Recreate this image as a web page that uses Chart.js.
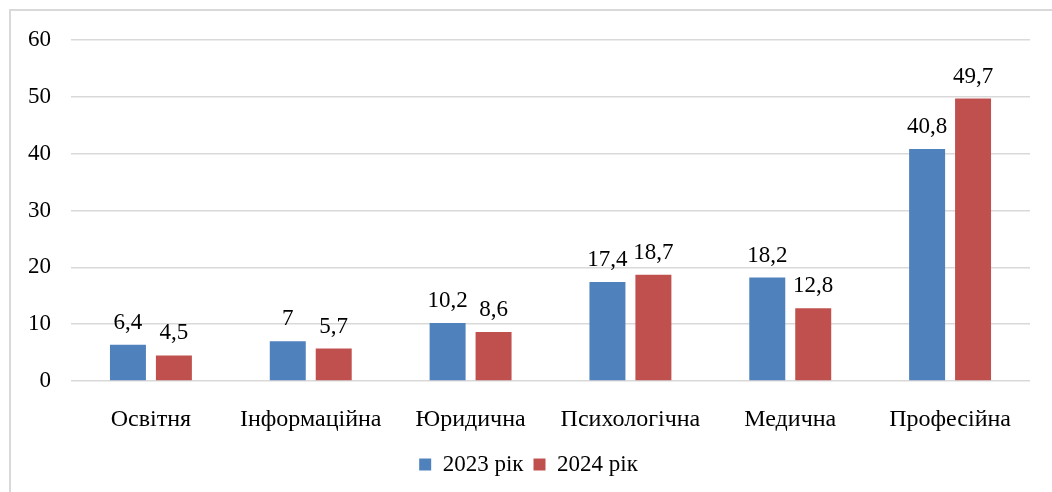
<!DOCTYPE html>
<html>
<head>
<meta charset="utf-8">
<script src="https://cdn.jsdelivr.net/npm/chart.js@4"></script>
<style>
  html, body { margin: 0; padding: 0; background: #fff; }
  #wrap { position: relative; width: 1052px; height: 492px; overflow: hidden; }
  #frame { position: absolute; left: 9px; top: 9px; width: 1100px; height: 600px;
           border-left: 2px solid #d9d9d9; border-top: 2px solid #d9d9d9; pointer-events: none; }
  canvas { position: absolute; left: 0; top: 0; }
</style>
</head>
<body>
<div id="wrap">
  <canvas id="c" width="1052" height="492"></canvas>
  <div id="frame"></div>
</div>
<script>
const categories = ["Освітня", "Інформаційна", "Юридична", "Психологічна", "Медична", "Професійна"];
const series2023 = [6.4, 7, 10.2, 17.4, 18.2, 40.8];
const series2024 = [4.5, 5.7, 8.6, 18.7, 12.8, 49.7];
const seriesNames = ["2023 рік", "2024 рік"];
const yTicks = [0, 10, 20, 30, 40, 50, 60];

const FONT = '"Liberation Serif", "Times New Roman", Times, serif';
Chart.defaults.font.family = FONT;

const valueLabels = {
  id: 'valueLabels',
  afterDatasetsDraw(chart) {
    const ctx = chart.ctx;
    ctx.save();
    ctx.font = '23px ' + FONT;
    ctx.fillStyle = "#000";
    ctx.textAlign = "center";
    ctx.textBaseline = "alphabetic";
    chart.data.datasets.forEach((ds, i) => {
      const meta = chart.getDatasetMeta(i);
      meta.data.forEach((bar, j) => {
        const txt = String(ds.data[j]).replace('.', ',');
        ctx.fillText(txt, bar.x, bar.y - 16);
      });
    });
    ctx.restore();
  }
};

new Chart(document.getElementById('c'), {
  type: 'bar',
  data: {
    labels: categories,
    datasets: [
      { label: seriesNames[0], data: series2023, backgroundColor: '#4F81BD',
        categoryPercentage: 0.575, barPercentage: 0.783 },
      { label: seriesNames[1], data: series2024, backgroundColor: '#C0504D',
        categoryPercentage: 0.575, barPercentage: 0.783 }
    ]
  },
  options: {
    responsive: false,
    animation: false,
    events: [],
    layout: { padding: { left: 27, right: 22, top: 40, bottom: 6 } },
    plugins: {
      tooltip: { enabled: false },
      legend: {
        position: 'bottom',
        labels: {
          font: { family: FONT, size: 23 },
          color: '#000',
          boxWidth: 12,
          boxHeight: 12,
          padding: 10
        }
      }
    },
    scales: {
      x: {
        grid: { display: false },
        border: { display: false },
        ticks: { font: { family: FONT, size: 24 }, color: '#000', padding: 16, maxRotation: 0 },
        afterFit(axis) { axis.height = 62; }
      },
      y: {
        min: 0, max: 60,
        afterBuildTicks(axis) { axis.ticks = yTicks.map(v => ({ value: v })); },
        grid: { color: '#d9d9d9', lineWidth: 1.5, drawTicks: false },
        border: { display: false },
        ticks: { font: { family: FONT, size: 23 }, color: '#000', padding: 20 },
        afterFit(axis) { axis.width = 44; }
      }
    }
  },
  plugins: [valueLabels]
});
</script>
</body>
</html>
